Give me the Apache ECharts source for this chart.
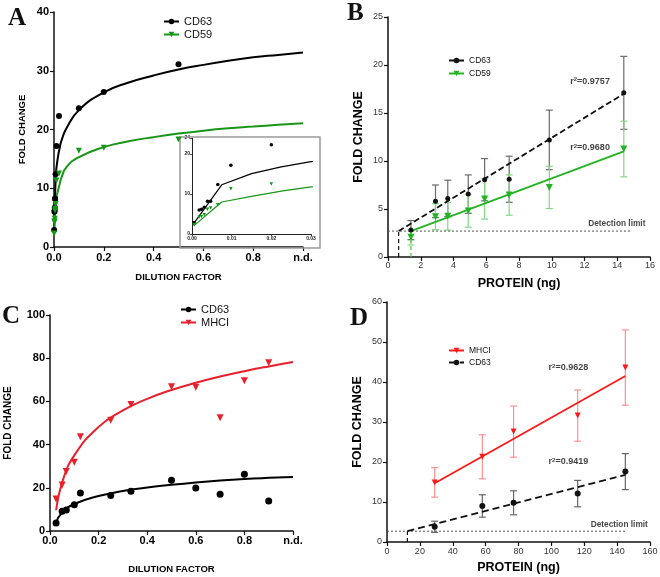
<!DOCTYPE html>
<html><head><meta charset="utf-8">
<script src="https://cdn.jsdelivr.net/npm/echarts@6/dist/echarts.min.js"></script>
<style>html,body{margin:0;padding:0;background:#fff}#c{width:660px;height:577px}</style>
</head><body><div id="c"></div><script>
// ---------- Panel A (dilution, CD63 / CD59) ----------
const dilA   = [0.0005,0.0018,0.0024,0.0031,0.0039,0.0047,0.0065,0.0098,0.02,0.1,0.2,0.5];
const cd63A  = [2.9,6.0,6.2,6.7,8.2,8.2,12.4,17.2,22.3,23.6,26.4,31.1];
const cd59A  = [2.3,4.2,4.4,4.8,6.2,6.5,7.3,11.3,12.5,16.4,16.9,18.3];
const fitXA     = [0.0005,0.0075,0.015,0.0225,0.03,0.05,0.1,0.2,0.3,0.4,0.5,0.6,0.7,0.8,0.9,1.0];
const fitCd63A  = [2.7,12.3,15.1,16.8,18.1,20.2,23.3,26.3,28.0,29.2,30.2,31.0,31.7,32.3,32.7,33.1];
const fitCd59A  = [2.1,8.0,9.4,10.7,11.8,13.6,15.3,17.0,18.0,18.7,19.3,19.8,20.2,20.5,20.8,21.05];

// ---------- Panel B (protein, CD63 / CD59) ----------
const protB     = [1.4,2.9,3.65,4.9,5.9,7.4,9.85,14.4];
const cd63B     = [2.8,5.8,6.1,6.55,8.05,8.1,12.2,17.1];
const cd63BErr  = [1.0,1.7,1.9,2.0,2.2,2.4,3.1,3.8];
const cd59B     = [2.05,4.2,4.25,4.8,6.05,6.45,7.25,11.25];
const cd59BErr  = [0.8,1.35,1.45,1.7,2.1,2.1,2.2,2.9];
const fitXB_cd63 = [0.65,14.4], fitYB_cd63 = [2.7,17.0];
const fitXB_cd59 = [1.4,14.4],  fitYB_cd59 = [2.7,11.0];
const detB = 2.7, detXB = [0,14.85];
const textPosB = [[11.1,18.3],[11.1,11.4]];
const textB = ['r{s|2}=0.9757','r{s|2}=0.9680'];
const detTextPosB = [15.75,3.5];

// ---------- Panel C (dilution, CD63 / MHCI) ----------
const dilC   = [0.025,0.05,0.067,0.1,0.125,0.25,0.333,0.5,0.6,0.7,0.8,0.9];
const cd63C  = [3.7,9.1,9.7,12.1,17.6,16.4,18.4,23.5,19.9,17.0,26.3,13.9];
const mhciC  = [14.8,21.3,27.5,31.8,43.6,51.3,58.6,66.8,66.6,52.4,69.6,77.9];
const fitXC    = [0.025,0.05,0.1,0.2,0.3,0.4,0.5,0.6,0.7,0.8,0.9,1.0];
const fitCd63C = [4.0,8.5,12.5,16.2,18.5,20.1,21.4,22.5,23.4,24.1,24.6,25.0];
const fitMhciC = [9.6,22.5,35.0,48.2,55.8,61.2,65.3,68.6,71.5,74.0,76.2,78.2];

// ---------- Panel D (protein, MHCI / CD63) ----------
const protD     = [29,58,77,116,145];
const mhciD     = [14.9,21.3,27.6,31.6,43.6];
const mhciDErr  = [3.7,5.5,6.4,6.4,9.4];
const cd63D     = [3.8,9.0,9.8,12.1,17.6];
const cd63DErr  = [1.4,2.8,3.0,3.3,4.5];
const fitXD_mhci = [29,145],  fitYD_mhci = [14.7,41.5];
const fitXD_cd63 = [12.4,145], fitYD_cd63 = [2.7,16.8];
const detD = 2.7, detXD = [0,145.5];
const textPosD = [[98,43.6],[98,20.0]];
const textD = ['r{s|2}=0.9628','r{s|2}=0.9419'];
const detTextPosD = [159,4.2];

const F = 'Liberation Sans, Arial, sans-serif';
const GREEN_A = '#179617', GREEN_B = '#22b422', GREEN_ERR = '#84d884';
const RED_C = '#e8202b', RED_D = '#ff1a1a', RED_ERR = '#ff9090';

const zip = (xs, ys) => xs.map((x, i) => [x, ys[i]]);
const zip3 = (xs, ys, es) => xs.map((x, i) => [x, ys[i], es[i]]);

function errBars(idx, data, color, cap) {
  return {
    type: 'custom', xAxisIndex: idx, yAxisIndex: idx, data: data, silent: true, z: 2,
    encode: {x: 0, y: 1}, itemStyle: {color: color},
    renderItem: function (params, api) {
      const x = api.value(0), y = api.value(1), e = api.value(2);
      const t = api.coord([x, y + e]), b = api.coord([x, y - e]);
      const st = {stroke: color, lineWidth: 1.2};
      return {type: 'group', children: [
        {type: 'line', shape: {x1: t[0], y1: t[1], x2: b[0], y2: b[1]}, style: st},
        {type: 'line', shape: {x1: t[0] - cap, y1: t[1], x2: t[0] + cap, y2: t[1]}, style: st},
        {type: 'line', shape: {x1: b[0] - cap, y1: b[1], x2: b[0] + cap, y2: b[1]}, style: st}
      ]};
    }
  };
}
function fitLine(idx, name, data, color, width, type, symbol, rot, smooth) {
  return {
    type: 'line', name: name, xAxisIndex: idx, yAxisIndex: idx, data: data,
    showSymbol: false, symbol: symbol, symbolSize: 7, symbolRotate: rot || 0,
    smooth: smooth || false, silent: true, z: 3,
    lineStyle: {color: color, width: width, type: type || 'solid'},
    itemStyle: {color: color}
  };
}
function pts(idx, data, color, symbol, size, rot) {
  return {
    type: 'scatter', xAxisIndex: idx, yAxisIndex: idx, data: data, silent: true, z: 4,
    symbol: symbol, symbolSize: size, symbolRotate: rot || 0, itemStyle: {color: color, opacity: 1}
  };
}
function refLine(idx, data, color, type, width) {
  return {
    type: 'line', xAxisIndex: idx, yAxisIndex: idx, data: data, showSymbol: false, symbol: 'none',
    silent: true, z: 2, lineStyle: {color: color, type: type, width: width || 1}
  };
}
function texts(idx, positions, labels, pos, size) {
  return {
    type: 'scatter', xAxisIndex: idx, yAxisIndex: idx, silent: true, z: 5,
    data: positions.map((p, i) => ({value: p, label: {formatter: labels[i]}})),
    symbolSize: 1, itemStyle: {color: 'rgba(0,0,0,0)'},
    label: {show: true, position: pos, distance: 0, color: '#111', fontFamily: F, fontSize: size,
      fontWeight: 'bold',
      rich: {s: {fontSize: 6, fontWeight: 'bold', fontFamily: F, color: '#111', verticalAlign: 'top', lineHeight: 8}}}
  };
}

function xAx(grid, min, max, interval, fmt, size, bold, color, name, nameGap, nameSize, margin) {
  return {
    type: 'value', gridIndex: grid, min: min, max: max, interval: interval,
    name: name, nameLocation: 'middle', nameGap: nameGap,
    nameTextStyle: {fontFamily: F, fontWeight: 'bold', fontSize: nameSize, color: '#000'},
    axisLine: {show: true, onZero: false, lineStyle: {color: '#111', width: 1.5}},
    axisTick: {show: true, inside: false, length: 4, lineStyle: {color: '#111', width: 1.2}},
    axisLabel: {show: true, formatter: fmt, fontFamily: F, fontSize: size, fontWeight: bold ? 'bold' : 'normal',
      color: color, margin: margin},
    splitLine: {show: false}
  };
}
function yAx(grid, min, max, interval, size, bold, color, name, nameGap, nameSize, margin) {
  return {
    type: 'value', gridIndex: grid, min: min, max: max, interval: interval,
    name: name, nameLocation: 'middle', nameGap: nameGap,
    nameTextStyle: {fontFamily: F, fontWeight: 'bold', fontSize: nameSize, color: '#000'},
    axisLine: {show: true, onZero: false, lineStyle: {color: '#111', width: 1.5}},
    axisTick: {show: true, inside: false, length: 4, lineStyle: {color: '#111', width: 1.2}},
    axisLabel: {show: true, fontFamily: F, fontSize: size, fontWeight: bold ? 'bold' : 'normal',
      color: color, margin: margin},
    splitLine: {show: false}
  };
}
const ndFmt = v => (Math.abs(v - 1) < 1e-9 ? 'n.d.' : v.toFixed(1));
const legFmt = n => n.split('|')[0];

function legend(left, top, names, size, gap, bold) {
  return {
    orient: 'vertical', left: left, top: top, data: names, formatter: legFmt,
    itemWidth: 15, itemHeight: 7, itemGap: gap, selectedMode: false, padding: 0,
    textStyle: {fontFamily: F, fontSize: size, color: '#111', fontWeight: bold ? 'bold' : 'normal'}
  };
}

const option = {
  animation: false,
  backgroundColor: '#fff',
  grid: [
    {left: 54, top: 12, width: 249, height: 235, outerBoundsMode: 'none', containLabel: false},
    {left: 192, top: 138, width: 119, height: 96, outerBoundsMode: 'none', containLabel: false},
    {left: 388, top: 17, width: 262, height: 240, outerBoundsMode: 'none', containLabel: false},
    {left: 50, top: 315, width: 243, height: 216, outerBoundsMode: 'none', containLabel: false},
    {left: 387, top: 302, width: 263, height: 240, outerBoundsMode: 'none', containLabel: false}
  ],
  xAxis: [
    xAx(0, 0, 1, 0.2, ndFmt, 11, true, '#000', 'DILUTION FACTOR', 25, 9.5, 5),
    Object.assign(xAx(1, 0, 0.03, 0.01, v => v.toFixed(2), 5, true, '#222', '', 0, 5, 2),
      {axisLine: {show: true, lineStyle: {color: '#222', width: 1}}, axisTick: {show: true, length: 2, lineStyle: {color: '#222', width: 0.8}}}),
    xAx(2, 0, 16, 2, null, 9, false, '#333', 'PROTEIN (ng)', 20, 12.5, 4),
    xAx(3, 0, 1, 0.2, ndFmt, 11, true, '#000', 'DILUTION FACTOR', 33, 9.5, 4),
    xAx(4, 0, 160, 20, null, 9, false, '#333', 'PROTEIN (ng)', 19, 12.5, 5)
  ],
  yAxis: [
    yAx(0, 0, 40, 10, 11, true, '#000', 'FOLD CHANGE', 27, 9.5, 5),
    Object.assign(yAx(1, 0, 24, 10, 5, true, '#222', '', 0, 5, 2),
      {axisLine: {show: true, lineStyle: {color: '#222', width: 1}}, axisTick: {show: true, length: 2, lineStyle: {color: '#222', width: 0.8}}}),
    yAx(2, 0, 25, 5, 9, false, '#333', 'FOLD CHANGE', 23, 12.5, 5),
    yAx(3, 0, 100, 20, 11, true, '#000', 'FOLD CHANGE', 37, 10, 5),
    yAx(4, 0, 60, 10, 9, false, '#333', 'FOLD CHANGE', 23, 12.5, 5)
  ],
  legend: [
    legend(163, 16, ['CD63|A', 'CD59|A'], 11, 2, false),
    legend(448, 56, ['CD63|B', 'CD59|B'], 8.5, 4, false),
    legend(180, 304, ['CD63|C', 'MHCI|C'], 11, 2, false),
    legend(448, 346, ['MHCI|D', 'CD63|D'], 8.5, 3, false)
  ],
  graphic: [
    {type: 'rect', shape: {x: 180, y: 137, width: 140, height: 111}, style: {fill: 'none', stroke: '#9a9a9a', lineWidth: 1.5}, z: 1},
    {type: 'text', left: 8, top: 6, style: {text: 'A', font: 'bold 25px "Liberation Serif", serif', fill: '#111'}},
    {type: 'text', left: 347, top: 1, style: {text: 'B', font: 'bold 25px "Liberation Serif", serif', fill: '#111'}},
    {type: 'text', left: 2, top: 304, style: {text: 'C', font: 'bold 25px "Liberation Serif", serif', fill: '#111'}},
    {type: 'text', left: 350, top: 306, style: {text: 'D', font: 'bold 25px "Liberation Serif", serif', fill: '#111'}}
  ],
  series: [
    // A
    fitLine(0, 'CD63|A', zip(fitXA, fitCd63A), '#000', 2, 'solid', 'circle', 0, 0.5),
    fitLine(0, 'CD59|A', zip(fitXA, fitCd59A), GREEN_A, 2, 'solid', 'triangle', 180, 0.5),
    pts(0, zip(dilA, cd63A), '#000', 'circle', 6),
    pts(0, zip(dilA, cd59A), GREEN_A, 'triangle', 6, 180),
    // inset
    fitLine(1, 'insetCD63', zip(fitXA, fitCd63A), '#000', 1.2, 'solid', 'none', 0, false),
    fitLine(1, 'insetCD59', zip(fitXA, fitCd59A), GREEN_A, 1.2, 'solid', 'none', 0, false),
    pts(1, zip(dilA, cd63A), '#000', 'circle', 3.5),
    pts(1, zip(dilA, cd59A), GREEN_A, 'triangle', 3.5, 180),
    // B
    refLine(2, zip(detXB, [detB, detB]), '#555', [2, 2], 1),
    refLine(2, [[fitXB_cd63[0], 0], [fitXB_cd63[0], fitYB_cd63[0]]], '#111', [4, 3], 1.2),
    refLine(2, [[fitXB_cd59[0], 0], [fitXB_cd59[0], fitYB_cd59[0]]], '#4cc44c', [4, 3], 1.2),
    errBars(2, zip3(protB, cd63B, cd63BErr), '#6a6a6a', 3.5),
    errBars(2, zip3(protB, cd59B, cd59BErr), GREEN_ERR, 3.5),
    fitLine(2, 'CD63|B', zip(fitXB_cd63, fitYB_cd63), '#111', 1.8, [6, 3], 'circle', 0),
    fitLine(2, 'CD59|B', zip(fitXB_cd59, fitYB_cd59), GREEN_B, 1.8, 'solid', 'triangle', 180),
    pts(2, zip(protB, cd63B), '#111', 'circle', 5),
    pts(2, zip(protB, cd59B), GREEN_B, 'triangle', 7, 180),
    texts(2, textPosB, textB, 'right', 9),
    texts(2, [detTextPosB], ['Detection limit'], 'left', 8.3),
    // C
    fitLine(3, 'CD63|C', zip(fitXC, fitCd63C), '#000', 2, 'solid', 'circle', 0, 0.5),
    fitLine(3, 'MHCI|C', zip(fitXC, fitMhciC), RED_C, 2, 'solid', 'triangle', 180, 0.5),
    pts(3, zip(dilC, cd63C), '#000', 'circle', 7),
    pts(3, zip(dilC, mhciC), RED_C, 'triangle', 7, 180),
    // D
    refLine(4, zip(detXD, [detD, detD]), '#555', [2, 2], 1),
    refLine(4, [[fitXD_cd63[0], 0], [fitXD_cd63[0], fitYD_cd63[0]]], '#111', [4, 3], 1.2),
    errBars(4, zip3(protD, mhciD, mhciDErr), RED_ERR, 3.5),
    errBars(4, zip3(protD, cd63D, cd63DErr), '#666', 3.5),
    fitLine(4, 'MHCI|D', zip(fitXD_mhci, fitYD_mhci), RED_D, 1.8, 'solid', 'triangle', 180),
    fitLine(4, 'CD63|D', zip(fitXD_cd63, fitYD_cd63), '#111', 1.8, [7, 4], 'circle', 0),
    pts(4, zip(protD, mhciD), RED_D, 'triangle', 6, 180),
    pts(4, zip(protD, cd63D), '#111', 'circle', 6),
    texts(4, textPosD, textD, 'right', 9),
    texts(4, [detTextPosD], ['Detection limit'], 'left', 8.3)
  ]
};
const chart = echarts.init(document.getElementById('c'), null, {renderer: 'canvas'});
chart.setOption(option);
</script></body></html>
